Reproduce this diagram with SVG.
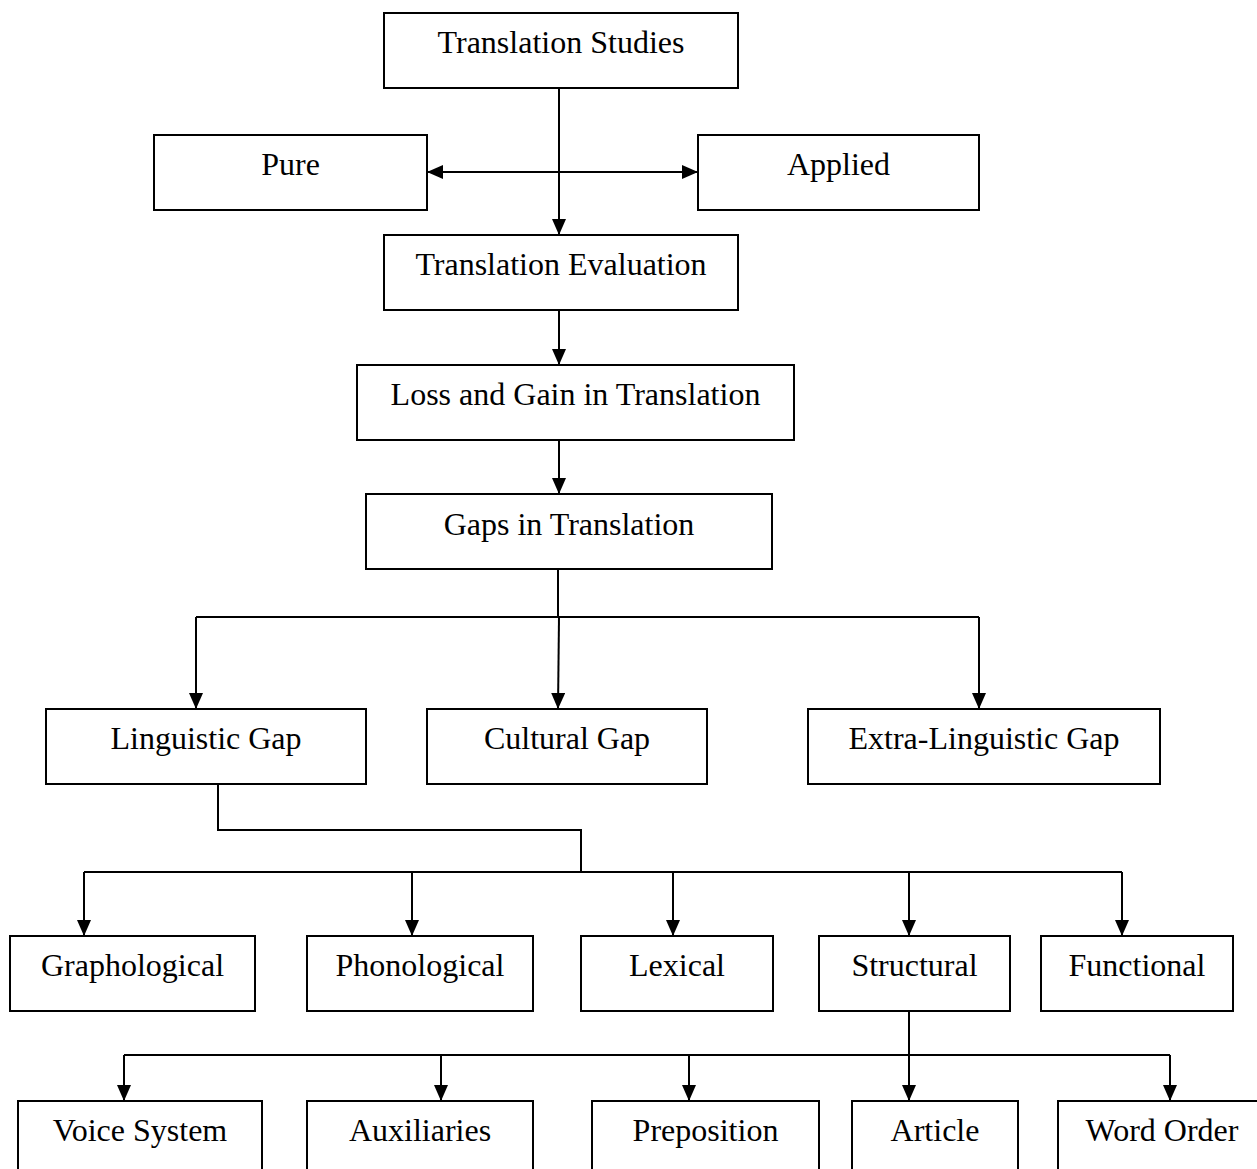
<svg xmlns="http://www.w3.org/2000/svg" width="1257" height="1169" viewBox="0 0 1257 1169">
<style>
  .box { fill: #fff; stroke: #000; stroke-width: 2; }
  .lbl { font-family: "Liberation Serif", "Times New Roman", serif; font-size: 32px; fill: #000; text-anchor: middle; }
  .ln { fill: none; stroke: #000; stroke-width: 2; }
  .ar { fill: none; stroke: #000; stroke-width: 2; marker-end: url(#ah); }
</style>
<defs>
  <marker id="ah" markerUnits="userSpaceOnUse" markerWidth="16" markerHeight="14" refX="16" refY="7" orient="auto-start-reverse">
    <path d="M0,0 L16,7 L0,14 z" fill="#000"/>
  </marker>
</defs>
<rect width="1257" height="1169" fill="#fff"/>
<g id="connectors">
  <line class="ar" x1="559" y1="88" x2="559" y2="235"/>
  <line class="ar" x1="427" y1="172" x2="698" y2="172" style="marker-start:url(#ah)"/>
  <line class="ar" x1="559" y1="310" x2="559" y2="365"/>
  <line class="ar" x1="559" y1="440" x2="559" y2="494"/>
  <polyline class="ln" points="558,569 558,617"/>
  <line class="ln" x1="196" y1="617" x2="979" y2="617"/>
  <line class="ar" x1="196" y1="617" x2="196" y2="709"/>
  <line class="ar" x1="559" y1="617" x2="558" y2="709"/>
  <line class="ar" x1="979" y1="617" x2="979" y2="709"/>
  <polyline class="ln" points="218,784 218,830 581,830 581,872"/>
  <line class="ln" x1="84" y1="872" x2="1122" y2="872"/>
  <line class="ar" x1="84" y1="872" x2="84" y2="936"/>
  <line class="ar" x1="412" y1="872" x2="412" y2="936"/>
  <line class="ar" x1="673" y1="872" x2="673" y2="936"/>
  <line class="ar" x1="909" y1="872" x2="909" y2="936"/>
  <line class="ar" x1="1122" y1="872" x2="1122" y2="936"/>
  <line class="ln" x1="909" y1="1011" x2="909" y2="1055"/>
  <line class="ln" x1="124" y1="1055" x2="1170" y2="1055"/>
  <line class="ar" x1="124" y1="1055" x2="124" y2="1101"/>
  <line class="ar" x1="441" y1="1055" x2="441" y2="1101"/>
  <line class="ar" x1="689" y1="1055" x2="689" y2="1101"/>
  <line class="ar" x1="909" y1="1055" x2="909" y2="1101"/>
  <line class="ar" x1="1170" y1="1055" x2="1170" y2="1101"/>
</g>
<g id="translation-studies"><rect class="box" x="384" y="13" width="354" height="75"/><text class="lbl" x="561" y="53">Translation Studies</text></g>
<g id="pure"><rect class="box" x="154" y="135" width="273" height="75"/><text class="lbl" x="290.5" y="175">Pure</text></g>
<g id="applied"><rect class="box" x="698" y="135" width="281" height="75"/><text class="lbl" x="838.5" y="175">Applied</text></g>
<g id="translation-evaluation"><rect class="box" x="384" y="235" width="354" height="75"/><text class="lbl" x="561" y="275">Translation Evaluation</text></g>
<g id="loss-gain"><rect class="box" x="357" y="365" width="437" height="75"/><text class="lbl" x="575.5" y="405">Loss and Gain in Translation</text></g>
<g id="gaps"><rect class="box" x="366" y="494" width="406" height="75"/><text class="lbl" x="569" y="535">Gaps in Translation</text></g>
<g id="linguistic-gap"><rect class="box" x="46" y="709" width="320" height="75"/><text class="lbl" x="206" y="749">Linguistic Gap</text></g>
<g id="cultural-gap"><rect class="box" x="427" y="709" width="280" height="75"/><text class="lbl" x="567" y="749">Cultural Gap</text></g>
<g id="extra-linguistic-gap"><rect class="box" x="808" y="709" width="352" height="75"/><text class="lbl" x="984" y="749">Extra-Linguistic Gap</text></g>
<g id="graphological"><rect class="box" x="10" y="936" width="245" height="75"/><text class="lbl" x="132.5" y="976">Graphological</text></g>
<g id="phonological"><rect class="box" x="307" y="936" width="226" height="75"/><text class="lbl" x="420" y="976">Phonological</text></g>
<g id="lexical"><rect class="box" x="581" y="936" width="192" height="75"/><text class="lbl" x="677" y="976">Lexical</text></g>
<g id="structural"><rect class="box" x="819" y="936" width="191" height="75"/><text class="lbl" x="914.5" y="976">Structural</text></g>
<g id="functional"><rect class="box" x="1041" y="936" width="192" height="75"/><text class="lbl" x="1137" y="976">Functional</text></g>
<g id="voice-system"><rect class="box" x="18" y="1101" width="244" height="80"/><text class="lbl" x="140" y="1141">Voice System</text></g>
<g id="auxiliaries"><rect class="box" x="307" y="1101" width="226" height="80"/><text class="lbl" x="420" y="1141">Auxiliaries</text></g>
<g id="preposition"><rect class="box" x="592" y="1101" width="227" height="80"/><text class="lbl" x="705.5" y="1141">Preposition</text></g>
<g id="article"><rect class="box" x="852" y="1101" width="166" height="80"/><text class="lbl" x="935" y="1141">Article</text></g>
<g id="word-order"><rect class="box" x="1058" y="1101" width="210" height="80"/><text class="lbl" x="1162" y="1141">Word Order</text></g>
</svg>
